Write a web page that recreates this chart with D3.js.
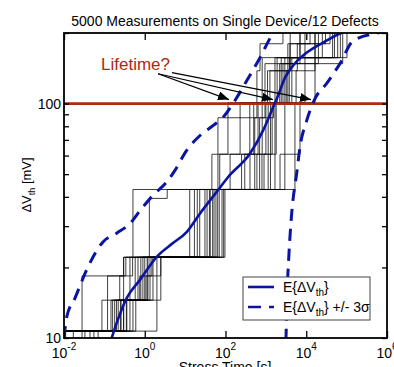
<!DOCTYPE html>
<html>
<head>
<meta charset="utf-8">
<script src="https://cdn.jsdelivr.net/npm/d3@7"></script>
<style>
body { margin: 0; background: #fff; }
text { font-family: "Liberation Sans", Arial, sans-serif; }
</style>
</head>
<body>
<svg id="chart" width="394" height="367"></svg>
<script>
const xTicks = [1e-2, 1e0, 1e2, 1e4, 1e6]
const xTickExp = ['-2', '0', '2', '4', '6']
const yMajor = [10, 100]
const yMinor = [20, 30, 40, 50, 60, 70, 80, 90, 200]
const lifetimeLevel = 100

// expected value E{dVth} (t [s], mV)
const meanCurve = [
    [0.152, 10], [0.202, 11.6], [0.357, 14.8], [0.762, 17.7], [1.98, 22.2], [5.0, 25.4],
    [10.9, 28.3], [23.4, 34.0], [60.5, 42.0], [115, 48.5], [404, 61.2], [849, 76.7],
    [1390, 93.3], [2000, 108], [2980, 129], [4700, 145], [10300, 165], [26000, 182],
    [68500, 199], [150000, 210]
]
// E + 3 sigma
const upperBand = [
    [0.01, 10], [0.0117, 12.3], [0.0187, 14.8], [0.0393, 20.1], [0.0924, 25.7], [0.202, 28.0],
    [0.431, 30.8], [0.84, 35.7], [1.6, 40.6], [3.5, 46.3], [5.6, 51.9], [10.9, 63.1],
    [23.4, 73.1], [49, 80.5], [86.7, 87.4], [153, 100], [335, 125], [716, 157], [1500, 199],
    [2200, 215]
]
// E - 3 sigma
const lowerBand = [
    [3000, 8], [3150, 10], [3340, 15.0], [3740, 23.0], [4360, 34.0], [5800, 50.4], [7000, 65.2],
    [10300, 84.8], [16500, 105], [32100, 122], [68500, 148], [144000, 185], [505000, 199],
    [1e6, 203]
]
// single-device traces: steps [t, mV]
const traces = [
    [[0.01, 9.5], [0.028, 18.4], [0.3, 22.1], [0.51, 43], [46, 60.8], [65, 87], [115, 101], [600, 138], [716, 180], [2650, 250]],
    [[0.01, 10.7], [0.087, 14.5], [0.12, 18.4], [0.34, 22.1], [1.3, 39.4], [3.6, 43], [72, 60.8], [230, 101], [950, 148], [7000, 250]],
    [[0.01, 10.7], [0.146, 14.5], [0.43, 22.1], [13, 43], [130, 60.8], [400, 101], [1680, 157], [45000, 250]],
    [[0.01, 9.5], [0.033, 10.7], [0.18, 14.5], [0.58, 22.1], [23, 43], [300, 60.8], [640, 101], [1260, 138], [3950, 180], [38700, 250]],
    [[0.01, 10.7], [0.22, 14.5], [0.68, 22.1], [31, 43], [404, 60.8], [810, 101], [1900, 157], [9300, 250]],
    [[0.01, 9.5], [0.044, 10.7], [0.26, 14.5], [0.8, 22.1], [42, 43], [530, 87], [950, 101], [2650, 148], [80000, 250]],
    [[0.01, 10.7], [0.3, 14.5], [1.0, 22.1], [48, 43], [800, 60.8], [1140, 101], [2950, 157], [102000, 250]],
    [[0.01, 9.5], [0.055, 10.7], [0.36, 14.5], [1.35, 22.1], [58, 43], [1140, 60.8], [1430, 101], [3500, 180], [12400, 250]],
    [[0.01, 10.7], [0.43, 14.5], [1.6, 22.1], [70, 43], [1680, 101], [4400, 157], [50000, 250]],
    [[0.01, 10.7], [0.51, 14.5], [2.0, 22.1], [82, 43], [2240, 60.8], [2950, 101], [5600, 138], [16500, 250]],
    [[0.01, 9.5], [0.011, 10.7], [0.6, 14.5], [1.07, 18.4], [2.5, 22.1], [97, 43], [5250, 101], [9300, 157], [70000, 250]],
    [[0.01, 10.7], [0.3, 22.1], [17, 43], [65, 60.8], [115, 87], [600, 101], [810, 157], [7000, 250]],
    [[0.01, 10.7], [2.0, 14.5], [2.5, 22.1], [90, 43], [2950, 60.8], [7000, 101], [16500, 250]],
    [[0.01, 10.7], [0.16, 14.5], [0.9, 22.1], [35, 43], [600, 60.8], [1000, 101], [2200, 148], [20000, 250]],
    [[0.01, 9.5], [0.07, 10.7], [0.2, 14.5], [1.2, 22.1], [52, 43], [900, 60.8], [1300, 101], [3200, 138], [6000, 180], [30000, 250]],
    [[0.01, 10.7], [0.25, 14.5], [0.75, 18.4], [1.5, 22.1], [64, 43], [1300, 60.8], [1800, 101], [2400, 157], [60000, 250]],
    [[0.01, 10.7], [0.35, 14.5], [1.15, 22.1], [40, 43], [700, 87], [1550, 101], [3800, 157], [25000, 250]],
    [[0.01, 9.5], [0.017, 10.7], [0.12, 14.5], [0.24, 18.4], [0.5, 22.1], [20, 43], [250, 60.8], [500, 101], [1100, 138], [4000, 250]]
]
// annotation arrows: [tail t, tail mV, tip t, tip mV]
const arrows = [
    [2.13, 134, 122, 104],
    [2.13, 134, 1500, 104],
    [4.73, 135.5, 13100, 104]
]

const plot = { left: 64, right: 387, top: 33, bottom: 338 }
const blue = '#0a14a0'
const red = '#b02a0c'

const svg = d3.select('#chart')
const x = d3.scaleLog().domain([1e-2, 1e6]).range([plot.left, plot.right])
const y = d3.scaleLog().domain([10, 200]).range([plot.bottom, plot.top])

const defs = svg.append('defs')
defs.append('clipPath').attr('id', 'clip')
    .append('rect')
    .attr('x', plot.left).attr('y', plot.top)
    .attr('width', plot.right - plot.left).attr('height', plot.bottom - plot.top)

const body = svg.append('g').attr('clip-path', 'url(#clip)')

const stepLine = d3.line()
    .x(d => x(d[0]))
    .y(d => y(d[1]))
    .curve(d3.curveStepAfter)

body.selectAll('.trace')
    .data(traces)
    .enter()
    .append('path')
    .attr('class', 'trace')
    .attr('d', d => stepLine(d.concat([[1e6, d[d.length - 1][1]]])))
    .attr('fill', 'none')
    .attr('stroke', '#000')
    .attr('stroke-opacity', 0.75)
    .attr('stroke-width', 1)

body.append('line')
    .attr('x1', plot.left).attr('x2', plot.right)
    .attr('y1', y(lifetimeLevel)).attr('y2', y(lifetimeLevel))
    .attr('stroke', red)
    .attr('stroke-width', 2.8)

const smooth = d3.line()
    .x(d => x(d[0]))
    .y(d => y(d[1]))
    .curve(d3.curveMonotoneX)

body.append('path')
    .attr('d', smooth(meanCurve))
    .attr('fill', 'none').attr('stroke', blue).attr('stroke-width', 2.6)

for (const band of [upperBand, lowerBand]) {
    body.append('path')
        .attr('d', smooth(band))
        .attr('fill', 'none').attr('stroke', blue).attr('stroke-width', 3)
        .attr('stroke-dasharray', '12,8')
}

// arrows
defs.append('marker')
    .attr('id', 'head')
    .attr('markerUnits', 'userSpaceOnUse')
    .attr('markerWidth', 12).attr('markerHeight', 9)
    .attr('refX', 11).attr('refY', 4.5)
    .attr('orient', 'auto')
    .append('path')
    .attr('d', 'M0,0 L11,4.5 L0,9 Z')
    .attr('fill', '#000')

svg.selectAll('.arrow')
    .data(arrows)
    .enter()
    .append('line')
    .attr('class', 'arrow')
    .attr('x1', d => x(d[0])).attr('y1', d => y(d[1]))
    .attr('x2', d => x(d[2])).attr('y2', d => y(d[3]))
    .attr('stroke', '#000').attr('stroke-width', 1.2)
    .attr('marker-end', 'url(#head)')

svg.append('text')
    .attr('x', 101).attr('y', 70)
    .attr('font-size', 17)
    .attr('fill', red)
    .text('Lifetime?')

// frame and ticks
svg.append('rect')
    .attr('x', plot.left).attr('y', plot.top)
    .attr('width', plot.right - plot.left).attr('height', plot.bottom - plot.top)
    .attr('fill', 'none').attr('stroke', '#000').attr('stroke-width', 1.8)

const tickGroups = [
    svg.append('g').attr('transform', `translate(0,${plot.bottom})`).call(d3.axisBottom(x).tickValues(xTicks).tickSize(-7).tickFormat('')),
    svg.append('g').attr('transform', `translate(0,${plot.top})`).call(d3.axisTop(x).tickValues(xTicks).tickSize(-7).tickFormat('')),
    svg.append('g').attr('transform', `translate(${plot.left},0)`).call(d3.axisLeft(y).tickValues(yMinor.concat(yMajor)).tickSize(-5).tickFormat('')),
    svg.append('g').attr('transform', `translate(${plot.right},0)`).call(d3.axisRight(y).tickValues(yMinor.concat(yMajor)).tickSize(-5).tickFormat(''))
]
tickGroups.forEach(g => {
    g.select('.domain').remove()
    g.selectAll('line').attr('stroke', '#000').attr('stroke-width', 1.3)
})

// tick labels
const xl = svg.selectAll('.xlab')
    .data(xTicks)
    .enter()
    .append('text')
    .attr('class', 'xlab')
    .attr('x', d => x(d))
    .attr('y', 358)
    .attr('text-anchor', 'middle')
    .attr('font-size', 14)
xl.append('tspan').text('10')
xl.append('tspan').attr('dy', -8).attr('font-size', 10).text((d, i) => xTickExp[i])

svg.selectAll('.ylab')
    .data(yMajor)
    .enter()
    .append('text')
    .attr('class', 'ylab')
    .attr('x', plot.left - 3)
    .attr('y', d => y(d) + 5)
    .attr('text-anchor', 'end')
    .attr('font-size', 14)
    .text(d => d)

svg.append('text')
    .attr('x', 225).attr('y', 26)
    .attr('text-anchor', 'middle')
    .attr('font-size', 14)
    .text('5000 Measurements on Single Device/12 Defects')

svg.append('text')
    .attr('x', 225).attr('y', 372)
    .attr('text-anchor', 'middle')
    .attr('font-size', 14)
    .text('Stress Time  [s]')

const yt = svg.append('text')
    .attr('transform', 'translate(31,185) rotate(-90)')
    .attr('text-anchor', 'middle')
    .attr('font-size', 13)
yt.append('tspan').text('ΔV')
yt.append('tspan').attr('dy', 4).attr('font-size', 9).text('th')
yt.append('tspan').attr('dy', -4).text('  [mV]')

// legend
const lg = svg.append('g')
lg.append('rect')
    .attr('x', 243).attr('y', 277).attr('width', 127).attr('height', 43)
    .attr('fill', '#fff').attr('stroke', '#444').attr('stroke-width', 1)
const legendItems = [
    { y: 287, dash: null, suffix: '}' },
    { y: 307, dash: '13,8', suffix: '} +/- 3σ' }
]
legendItems.forEach(item => {
    lg.append('line')
        .attr('x1', 248).attr('x2', 274)
        .attr('y1', item.y).attr('y2', item.y)
        .attr('stroke', blue).attr('stroke-width', 2.6)
        .attr('stroke-dasharray', item.dash)
    const t = lg.append('text').attr('x', 283).attr('y', item.y + 5).attr('font-size', 14)
    t.append('tspan').text('E{ΔV')
    t.append('tspan').attr('dy', 4).attr('font-size', 10).text('th')
    t.append('tspan').attr('dy', -4).text(item.suffix)
})
</script>
</body>
</html>
